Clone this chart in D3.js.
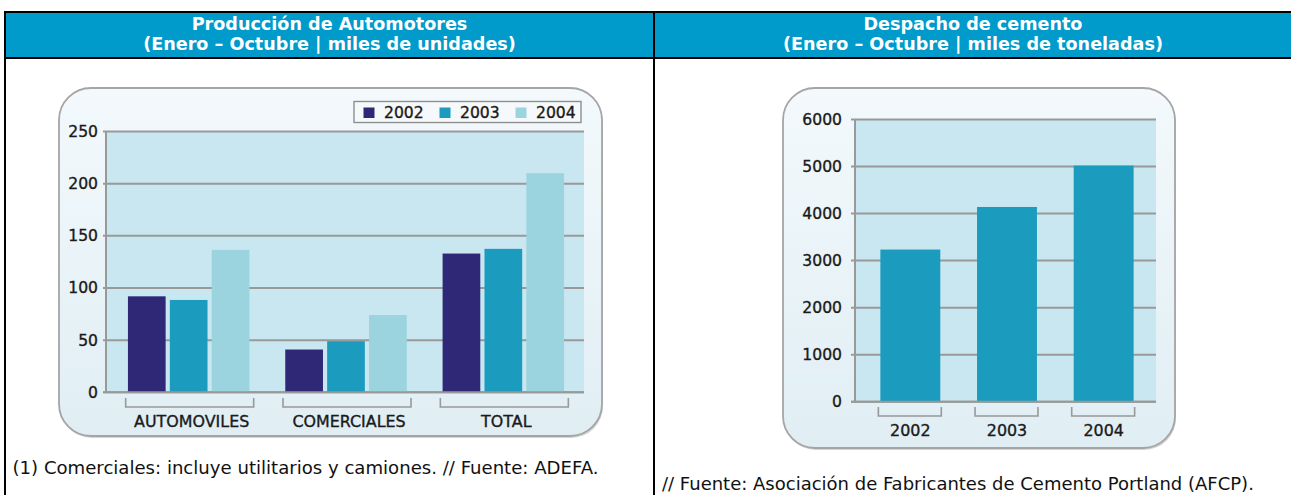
<!DOCTYPE html>
<html>
<head>
<meta charset="utf-8">
<script src="https://cdn.jsdelivr.net/npm/d3@7"></script>
<style>
  html, body { margin: 0; padding: 0; background: #ffffff; }
  svg { display: block; }
  text { font-family: "DejaVu Sans", Verdana, sans-serif; }
  .ct { stroke: #1a1a1a; stroke-width: 0.35px; }
</style>
</head>
<body>
<svg id="chart" width="1291" height="495"></svg>
<script>
// ---------- data ----------
const categories = ["AUTOMOVILES", "COMERCIALES", "TOTAL"];
const years = ["2002", "2003", "2004"];
const values2002 = [92, 41, 133];
const values2003 = [88.5, 49, 137.5];
const values2004 = [136.5, 74, 210];
const autoTicks = [0, 50, 100, 150, 200, 250];

const cementYears = ["2002", "2003", "2004"];
const cementValues = [3235, 4140, 5020];
const cementTicks = [0, 1000, 2000, 3000, 4000, 5000, 6000];

const titleLeft = ["Producción de Automotores", "(Enero – Octubre | miles de unidades)"];
const titleRight = ["Despacho de cemento", "(Enero – Octubre | miles de toneladas)"];
const noteLeft = "(1) Comerciales: incluye utilitarios y camiones. // Fuente: ADEFA.";
const noteRight = "// Fuente: Asociación de Fabricantes de Cemento Portland (AFCP).";

const seriesValues = [values2002, values2003, values2004];
const seriesColors = ["#2e2876", "#1b9cbf", "#9bd3df"];

// ---------- layout ----------
const svg = d3.select("#chart");
const defs = svg.append("defs");
const grad = defs.append("linearGradient").attr("id", "boxGrad")
  .attr("x1", 0).attr("y1", 0).attr("x2", 0).attr("y2", 1);
grad.append("stop").attr("offset", "0%").attr("stop-color", "#f3f9fc");
grad.append("stop").attr("offset", "100%").attr("stop-color", "#e0eef4");

// table header
svg.append("rect").attr("x", 5).attr("y", 12).attr("width", 1286).attr("height", 46)
  .attr("fill", "#009acb");
svg.append("line").attr("x1", 4).attr("x2", 1291).attr("y1", 12).attr("y2", 12)
  .attr("stroke", "#000").attr("stroke-width", 2);
svg.append("line").attr("x1", 4).attr("x2", 1291).attr("y1", 58).attr("y2", 58)
  .attr("stroke", "#000").attr("stroke-width", 2);
svg.append("line").attr("x1", 5).attr("x2", 5).attr("y1", 11).attr("y2", 495)
  .attr("stroke", "#000").attr("stroke-width", 2);
svg.append("line").attr("x1", 654).attr("x2", 654).attr("y1", 11).attr("y2", 495)
  .attr("stroke", "#000").attr("stroke-width", 2);

function header(lines, cx) {
  lines.forEach((t, i) => {
    svg.append("text").attr("x", cx).attr("y", 30 + i * 20)
      .attr("text-anchor", "middle").attr("fill", "#ffffff")
      .attr("font-weight", "bold").attr("font-size", "17.6px").text(t);
  });
}
header(titleLeft, 329.5);
header(titleRight, 973);

svg.append("text").attr("x", 12.5).attr("y", 474).attr("font-size", "18.1px")
  .attr("fill", "#111").text(noteLeft);
svg.append("text").attr("x", 662).attr("y", 490).attr("font-size", "18px")
  .attr("fill", "#111").text(noteRight);

function panel(x, y, w, h) {
  svg.append("rect").attr("x", x + 1).attr("y", y + 2).attr("width", w).attr("height", h)
    .attr("rx", 32).attr("fill", "#d4d4d4");
  svg.append("rect").attr("x", x).attr("y", y).attr("width", w).attr("height", h)
    .attr("rx", 32).attr("fill", "url(#boxGrad)").attr("stroke", "#a5a5a5").attr("stroke-width", 1.8);
}

// ---------- chart 1 ----------
panel(59, 88, 543, 348);
const c1 = { left: 106, right: 584, top: 131.5, bottom: 392.3 };
const y1 = d3.scaleLinear().domain([0, 250]).range([c1.bottom, c1.top]);
const x1 = d3.scaleBand().domain(categories).range([110, 582])
  .paddingInner(0.228).paddingOuter(0.114);
const x1in = d3.scaleBand().domain(years).range([0, x1.bandwidth()]).paddingInner(0.1);

const g1 = svg.append("g");
g1.append("rect").attr("x", c1.left).attr("y", c1.top)
  .attr("width", c1.right - c1.left).attr("height", c1.bottom - c1.top).attr("fill", "#c8e7f1");
g1.selectAll("line.grid").data(autoTicks).join("line").attr("class", "grid")
  .attr("x1", c1.left - 3).attr("x2", c1.right)
  .attr("y1", d => y1(d)).attr("y2", d => y1(d))
  .attr("stroke", "#999").attr("stroke-width", 2);
g1.append("line").attr("x1", c1.left).attr("x2", c1.left)
  .attr("y1", c1.top).attr("y2", c1.bottom).attr("stroke", "#999").attr("stroke-width", 2);

const ax1 = g1.append("g").attr("transform", `translate(${c1.left},0)`)
  .call(d3.axisLeft(y1).tickValues(autoTicks).tickSize(0).tickPadding(8));
ax1.select(".domain").remove();
ax1.selectAll("text").attr("class", "ct").attr("font-family", "DejaVu Sans")
  .attr("font-size", "15.6px").attr("fill", "#1a1a1a");

categories.forEach((c, ci) => {
  years.forEach((yr, si) => {
    const v = seriesValues[si][ci];
    g1.append("rect").attr("x", x1(c) + x1in(yr)).attr("y", y1(v))
      .attr("width", x1in.bandwidth()).attr("height", y1(0) - y1(v))
      .attr("fill", seriesColors[si]);
  });
  const cx = x1(c) + x1.bandwidth() / 2;
  g1.append("path")
    .attr("d", `M${cx - 63},398 V407 H${cx + 65} V398`)
    .attr("fill", "none").attr("stroke", "#999").attr("stroke-width", 1.6);
  g1.append("text").attr("class", "ct").attr("x", cx + 3).attr("y", 427).attr("text-anchor", "middle")
    .attr("font-size", "15.9px").attr("fill", "#1a1a1a").text(c);
});
g1.append("line").attr("x1", c1.left - 3).attr("x2", c1.right)
  .attr("y1", y1(0)).attr("y2", y1(0)).attr("stroke", "#999").attr("stroke-width", 2);

// legend
const lg = g1.append("g");
lg.append("rect").attr("x", 354).attr("y", 101.5).attr("width", 227).attr("height", 21)
  .attr("fill", "#f6f9fb").attr("stroke", "#8f8f8f").attr("stroke-width", 1.4);
const legX = [363.5, 439.5, 515.5];
years.forEach((yr, i) => {
  lg.append("rect").attr("x", legX[i]).attr("y", 107.5).attr("width", 11).attr("height", 10.5)
    .attr("fill", seriesColors[i]);
  lg.append("text").attr("class", "ct").attr("x", legX[i] + 20.5).attr("y", 118)
    .attr("font-size", "15.6px").attr("fill", "#1a1a1a").text(yr);
});

// ---------- chart 2 ----------
panel(783, 88, 392, 360);
const c2 = { left: 855, right: 1156, top: 119.5, bottom: 401.7 };
const y2 = d3.scaleLinear().domain([0, 6000]).range([c2.bottom, c2.top]);
const x2 = d3.scaleBand().domain(cementYears).range([862, 1152])
  .paddingInner(0.38).paddingOuter(0.19);

const g2 = svg.append("g");
g2.append("rect").attr("x", c2.left).attr("y", c2.top)
  .attr("width", c2.right - c2.left).attr("height", c2.bottom - c2.top).attr("fill", "#c8e7f1");
g2.selectAll("line.grid").data(cementTicks).join("line").attr("class", "grid")
  .attr("x1", c2.left - 4).attr("x2", c2.right)
  .attr("y1", d => y2(d)).attr("y2", d => y2(d))
  .attr("stroke", "#999").attr("stroke-width", 2);
g2.append("line").attr("x1", c2.left).attr("x2", c2.left)
  .attr("y1", c2.top).attr("y2", c2.bottom).attr("stroke", "#999").attr("stroke-width", 2);

const ax2 = g2.append("g").attr("transform", `translate(${c2.left},0)`)
  .call(d3.axisLeft(y2).tickValues(cementTicks).tickSize(0).tickPadding(13)
    .tickFormat(d3.format("d")));
ax2.select(".domain").remove();
ax2.selectAll("text").attr("class", "ct").attr("font-family", "DejaVu Sans")
  .attr("font-size", "15.6px").attr("fill", "#1a1a1a");

cementYears.forEach((yr, i) => {
  const v = cementValues[i];
  g2.append("rect").attr("x", x2(yr)).attr("y", y2(v))
    .attr("width", x2.bandwidth()).attr("height", y2(0) - y2(v)).attr("fill", "#1b9cbf");
  const bx = x2(yr);
  g2.append("path")
    .attr("d", `M${bx - 2},407 V416 H${bx + x2.bandwidth() + 1} V407`)
    .attr("fill", "none").attr("stroke", "#999").attr("stroke-width", 1.6);
  g2.append("text").attr("class", "ct").attr("x", bx + x2.bandwidth() / 2).attr("y", 435.5)
    .attr("text-anchor", "middle").attr("font-size", "15.9px").attr("fill", "#1a1a1a").text(yr);
});
g2.append("line").attr("x1", c2.left - 4).attr("x2", c2.right)
  .attr("y1", y2(0)).attr("y2", y2(0)).attr("stroke", "#999").attr("stroke-width", 2);
</script>
</body>
</html>
